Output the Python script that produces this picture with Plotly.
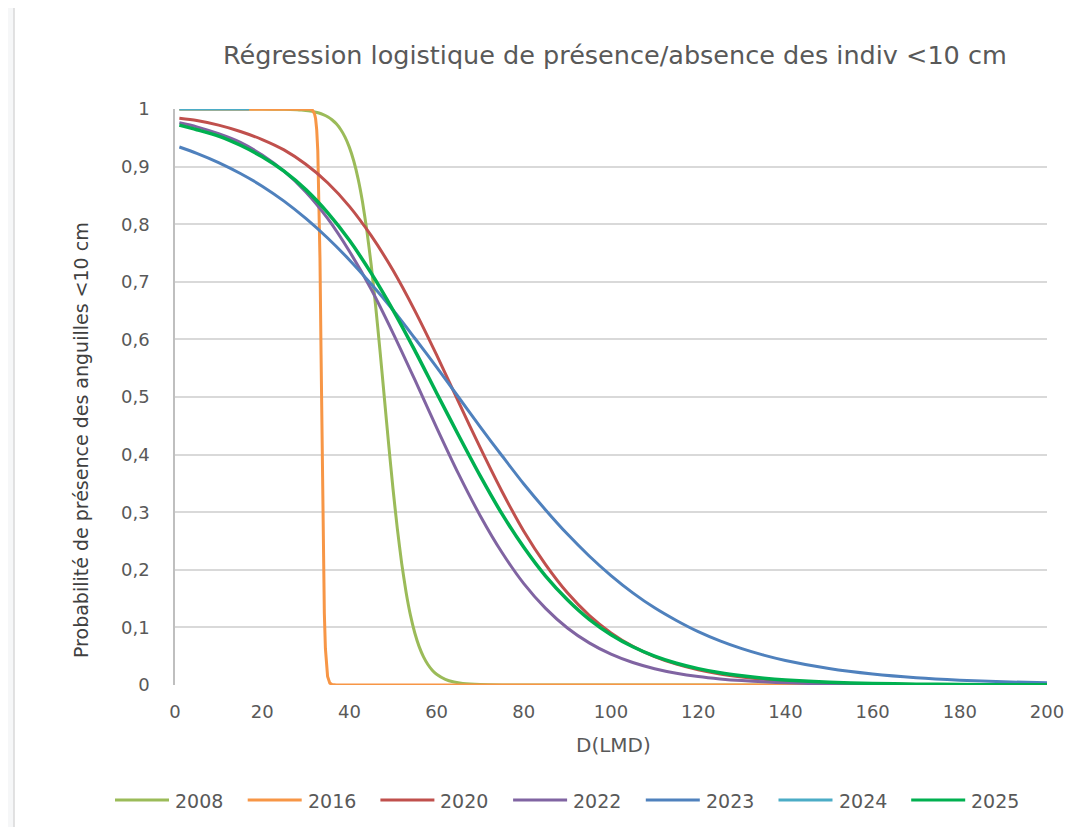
import plotly.graph_objects as go

# ---------------- data ----------------
x_smooth = [1, 5, 10, 15, 20, 25, 30, 35, 40, 45, 50, 55, 60, 65, 70, 75, 80, 85,
            90, 95, 100, 105, 110, 115, 120, 125, 130, 135, 140,
            150, 160, 170, 180, 190, 200]

y_2020 = [0.984, 0.980, 0.972, 0.961, 0.947, 0.929, 0.904, 0.872, 0.831, 0.780,
          0.720, 0.650, 0.573, 0.492, 0.412, 0.336, 0.267, 0.209, 0.160, 0.121,
          0.0905, 0.0671, 0.0494, 0.0362, 0.0264, 0.0192, 0.0140, 0.0101, 0.0073,
          0.0038, 0.0020, 0.0010, 0.0006, 0.0003, 0.0002]

y_2022 = [0.976, 0.969, 0.957, 0.942, 0.920, 0.892, 0.856, 0.810, 0.753, 0.687,
          0.611, 0.530, 0.447, 0.367, 0.294, 0.230, 0.176, 0.133, 0.099, 0.0731,
          0.0535, 0.0390, 0.0283, 0.0204, 0.0147, 0.0106, 0.0076, 0.0055, 0.0039,
          0.0020, 0.0010, 0.0005, 0.0003, 0.0001, 0.0001]

y_2023 = [0.934, 0.923, 0.907, 0.888, 0.866, 0.840, 0.810, 0.776, 0.738, 0.696,
          0.651, 0.602, 0.552, 0.500, 0.448, 0.398, 0.349, 0.304, 0.262, 0.224,
          0.190, 0.160, 0.134, 0.112, 0.0926, 0.0766, 0.0631, 0.0519, 0.0426,
          0.0285, 0.0190, 0.0126, 0.0084, 0.0056, 0.0037]

y_2025 = [0.972, 0.964, 0.953, 0.937, 0.917, 0.892, 0.860, 0.820, 0.772, 0.715,
          0.651, 0.581, 0.507, 0.434, 0.363, 0.297, 0.239, 0.189, 0.148, 0.114,
          0.0874, 0.0664, 0.0502, 0.0378, 0.0284, 0.0212, 0.0159, 0.0118, 0.0088,
          0.0049, 0.0027, 0.0015, 0.0008, 0.0005, 0.0003]

x_2008 = [1, 10, 20, 25, 28, 29, 30, 31, 32, 33, 34, 35, 36, 37, 38, 39, 40, 41,
          42, 43, 44, 45, 46, 47, 48, 49, 50, 51, 52, 53, 54, 55, 56, 57, 58, 59,
          60, 62, 64, 66, 70, 75, 80, 90, 100, 120, 140, 160, 180, 200]
y_2008 = [1.0, 1.0, 0.9999, 0.9995, 0.9986, 0.9981, 0.9974, 0.9964, 0.9949,
          0.9930, 0.9902, 0.9865, 0.9813, 0.9742, 0.9644, 0.9512, 0.9334, 0.9097,
          0.8787, 0.8389, 0.7892, 0.7291, 0.6593, 0.5818, 0.5, 0.4182, 0.3407,
          0.2709, 0.2108, 0.1611, 0.1213, 0.0903, 0.0666, 0.0488, 0.0356, 0.0258,
          0.0187, 0.0098, 0.0051, 0.0026, 0.0007, 0.0001, 0.0, 0.0, 0.0, 0.0, 0.0,
          0.0, 0.0, 0.0]

x_2016 = [1, 10, 20, 25, 30, 31, 31.5, 32, 32.25, 32.5, 32.75, 33, 33.25, 33.5,
          33.75, 34, 34.25, 34.5, 34.75, 35, 35.5, 36, 37, 40, 60, 80, 100, 120,
          140, 160, 180, 200]
y_2016 = [1.0, 1.0, 1.0, 1.0, 1.0, 0.9996, 0.9982, 0.9918, 0.983, 0.9644, 0.9276,
          0.858, 0.741, 0.574, 0.389, 0.231, 0.125, 0.063, 0.031, 0.0148, 0.0033,
          0.0007, 0.0, 0.0, 0.0, 0.0, 0.0, 0.0, 0.0, 0.0, 0.0, 0.0]

x_2024 = [1, 5, 10, 15, 17]
y_2024 = [1.0, 1.0, 1.0, 1.0, 1.0]

x_ticks = [0, 20, 40, 60, 80, 100, 120, 140, 160, 180, 200]
y_ticks = [0, 0.1, 0.2, 0.3, 0.4, 0.5, 0.6, 0.7, 0.8, 0.9, 1]

title_text = "Régression logistique de présence/absence des indiv <10 cm"
x_title = "D(LMD)"
y_title = "Probabilité de présence des anguilles <10 cm"

# ---------------- figure ----------------
FONT = "'DejaVu Sans', Lato, sans-serif"
GREY = "#595959"

series = [
    ("2008", x_2008, y_2008, "#9BBB59", "spline", 3, 0.5),
    ("2016", x_2016, y_2016, "#F79646", "linear", 3, 0),
    ("2020", x_smooth, y_2020, "#C0504D", "spline", 3, 0.8),
    ("2022", x_smooth, y_2022, "#8064A2", "spline", 3, 0.8),
    ("2023", x_smooth, y_2023, "#4F81BD", "spline", 3, 0.8),
    ("2024", x_2024, y_2024, "#4BACC6", "linear", 3, 0),
    ("2025", x_smooth, y_2025, "#00B050", "spline", 3.5, 0.8),
]

fig = go.Figure()
for name, xs, ys, color, shape, w, sm in series:
    line = dict(color=color, width=w, shape=shape)
    if shape == "spline":
        line["smoothing"] = sm
    fig.add_trace(go.Scatter(
        x=xs, y=ys, name=name, mode="lines", showlegend=False, line=line,
    ))

# The page body adds an 8 px offset; the figure is sized so that the plot
# lands where the reference has it (plot area 175..1047 x 109..685).
OFF = 8
W, H = 1084 - OFF, 827 - OFF
PL, PR, PT, PB = 175, 1047, 109, 685          # reference pixel frame
L, T = PL - OFF, PT - OFF
R, B = W - (PR - OFF), H - (PB - OFF)
pw, ph = PR - PL, PB - PT


def px_x(px):
    return (px - PL) / pw


def px_y(py):
    return (PB - py) / ph


shapes = [
    dict(type="rect", xref="paper", yref="paper",
         x0=px_x(14), x1=px_x(1100), y0=px_y(845), y1=px_y(6),
         line=dict(color="#d9d9d9", width=1.5), fillcolor="white",
         layer="below"),
]
annotations = [
    dict(text=title_text, xref="paper", yref="paper",
         x=px_x(615), y=px_y(55), xanchor="center", yanchor="middle",
         showarrow=False, font=dict(family=FONT, size=25.5, color=GREY)),
    dict(text=x_title, xref="paper", yref="paper",
         x=px_x(613), y=px_y(745), xanchor="center", yanchor="middle",
         showarrow=False, font=dict(family=FONT, size=20, color=GREY)),
    dict(text=y_title, xref="paper", yref="paper",
         x=px_x(81), y=px_y(440), xanchor="center", yanchor="middle",
         textangle=-90,
         showarrow=False, font=dict(family=FONT, size=19, color="#404040")),
]

# custom legend (Excel-style long line samples)
legend_start = 115
legend_pitch = 132.7
legend_y = 800
sample_len = 54
for i, (name, xs, ys, color, shape, w, sm) in enumerate(series):
    x0 = legend_start + i * legend_pitch
    shapes.append(dict(type="line", xref="paper", yref="paper",
                       x0=px_x(x0), x1=px_x(x0 + sample_len),
                       y0=px_y(legend_y), y1=px_y(legend_y),
                       line=dict(color=color, width=3)))
    annotations.append(dict(text=name, xref="paper", yref="paper",
                            x=px_x(x0 + sample_len + 4), y=px_y(legend_y + 1),
                            xanchor="left", yanchor="middle", showarrow=False,
                            font=dict(family=FONT, size=19, color=GREY)))

fig.update_layout(
    width=W, height=H,
    margin=dict(l=L, r=R, t=T, b=B, autoexpand=False),
    paper_bgcolor="#f6f7f8",
    plot_bgcolor="white",
    separators=", ",
    font=dict(family=FONT, color=GREY, size=18),
    showlegend=False,
    xaxis=dict(
        range=[0, 200], tickvals=x_ticks,
        showgrid=False, zeroline=False, showline=False,
        ticks="", ticklabelstandoff=14,
        tickfont=dict(family=FONT, size=18, color=GREY),
        fixedrange=True,
    ),
    yaxis=dict(
        range=[0, 1], tickvals=y_ticks,
        showgrid=True, gridcolor="#d9d9d9", gridwidth=1.5,
        zeroline=False, showline=True, linecolor="#bfbfbf", linewidth=1.5,
        ticks="", ticklabelstandoff=20,
        tickfont=dict(family=FONT, size=18, color=GREY),
        fixedrange=True,
    ),
    shapes=shapes,
    annotations=annotations,
)

fig.write_html("out.html")
